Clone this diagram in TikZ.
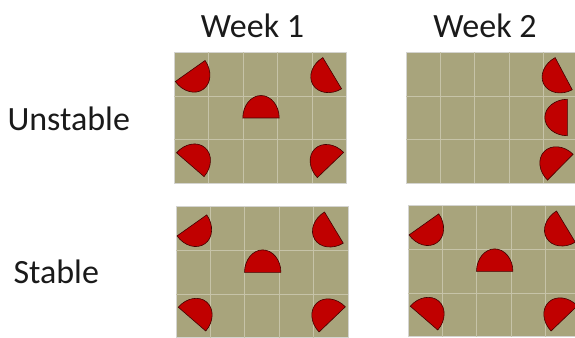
\documentclass[tikz,border=0pt]{standalone}
\usepackage{fontspec}
\setmainfont{Carlito}
\usetikzlibrary{positioning}
\definecolor{khaki}{HTML}{A8A47C}
\definecolor{seam}{HTML}{C6C3A8}
\definecolor{rim}{HTML}{D4D4D0}
\definecolor{moon}{HTML}{C00000}
\definecolor{ink}{HTML}{1A1A1A}
% one half moon: offset from the panel's top left corner, and the way its bulge points
\newcommand{\halfmoon}[3]{\draw[moonshape,shift={(#1,-#2)},rotate=#3-90] (-18.2,0) arc[start angle=180,end angle=0,x radius=18.2,y radius=22.5] -- cycle;}
\newcommand{\panelgrid}{%
  \foreach \i in {1,...,4} \draw[seamline] (\i*34.4,0) -- (\i*34.4,-131);
  \foreach \j in {1,2} \draw[seamline] (0,-\j*43.67) -- (172,-\j*43.67);}
\newcommand{\fivemoons}{%
  \halfmoon{15.9}{18.7}{-54.7}
  \halfmoon{157.9}{20.9}{211}
  \halfmoon{86.7}{65.7}{90}
  \halfmoon{16}{112.4}{49.1}
  \halfmoon{156.2}{112.7}{133.8}}

\begin{document}
\begin{tikzpicture}[x=1pt,y=1pt,
  panel/.style={anchor=north west,minimum width=172pt,minimum height=131pt,inner sep=0pt,outer sep=0pt,fill=khaki,draw=rim,line width=1pt},
  seamline/.style={draw=seam,line width=0.8pt},
  moonshape/.style={fill=moon,draw=moon!35!black,line width=0.6pt},
  heading/.style={font=\fontsize{34}{40}\selectfont,text=ink,inner sep=0pt}]
\useasboundingbox (0,0) rectangle (575,337);
\clip (0,0) rectangle (575,337);
% column and row titles
\node[heading,anchor=base] (week1) at (252.5,299) {Week 1};
\node[heading,anchor=base] (week2) at (485,299) {Week 2};
\node[heading,anchor=base west] (unstable) at (7.3,206) {Unstable};
\node[heading,anchor=base west] (stable) at (13.3,53) {Stable};
% the four panels
\node[panel] (unstable1) at (174.3,284.7) {};
\node[panel] (unstable2) at (406,284.7) {};
\node[panel] (stable1) at (176,130.3) {};
\node[panel] (stable2) at (408,131.3) {};
\begin{scope}[shift={(unstable1.north west)}]
  \panelgrid \fivemoons
\end{scope}
\begin{scope}[shift={(unstable2.north west)}]
  \panelgrid
  \halfmoon{157.7}{21.4}{208}
  \halfmoon{161.3}{65.2}{180}
  \halfmoon{154.3}{114.9}{135.4}
\end{scope}
\begin{scope}[shift={(stable1.north west)}]
  \panelgrid \fivemoons
\end{scope}
\begin{scope}[shift={(stable2.north west)}]
  \panelgrid \fivemoons
\end{scope}
\end{tikzpicture}
\end{document}
